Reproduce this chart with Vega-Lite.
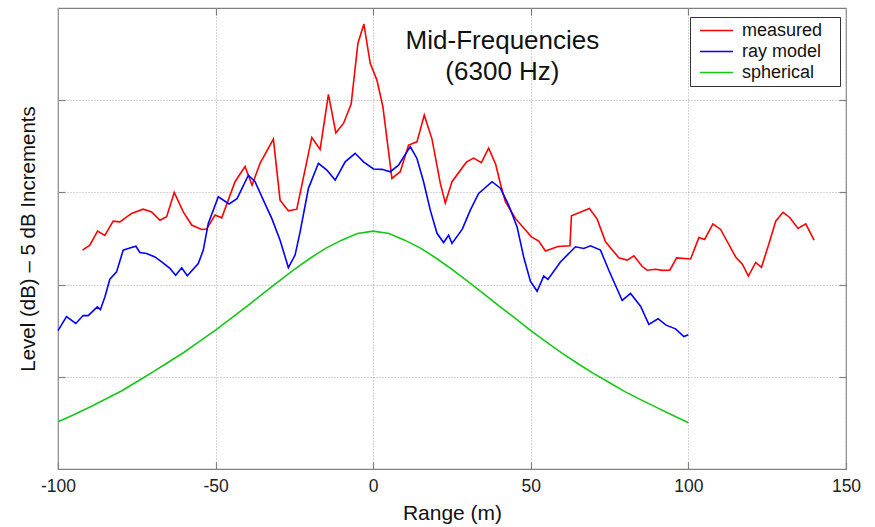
{
  "$schema": "https://vega.github.io/schema/vega-lite/v6.json",
  "width": 788,
  "height": 461,
  "autosize": {"type": "none"},
  "padding": {"left": 58, "top": 8, "right": 29, "bottom": 58},
  "background": "white",
  "config": {
    "font": "Liberation Sans",
    "view": {"stroke": "#808080", "strokeWidth": 1.2},
    "axis": {
      "domain": false,
      "tickColor": "#808080",
      "tickWidth": 1.2,
      "gridColor": "#a8a8a8",
      "gridDash": [1, 2],
      "gridWidth": 1,
      "labelColor": "#222",
      "titleColor": "#111",
      "labelFont": "Liberation Sans",
      "titleFont": "Liberation Sans",
      "titleFontWeight": "normal"
    }
  },
  "resolve": {"axis": {"x": "independent", "y": "independent"}},
  "layer": [
    {
      "data": {"values": [
        {"series": "measured", "r": -92.22, "L": 11.87},
        {"series": "measured", "r": -89.90, "L": 12.14},
        {"series": "measured", "r": -87.45, "L": 12.90},
        {"series": "measured", "r": -85.13, "L": 12.67},
        {"series": "measured", "r": -82.50, "L": 13.44},
        {"series": "measured", "r": -80.37, "L": 13.40},
        {"series": "measured", "r": -76.65, "L": 13.86},
        {"series": "measured", "r": -72.97, "L": 14.09},
        {"series": "measured", "r": -70.30, "L": 13.94},
        {"series": "measured", "r": -67.66, "L": 13.49},
        {"series": "measured", "r": -65.53, "L": 13.68},
        {"series": "measured", "r": -63.12, "L": 15.00},
        {"series": "measured", "r": -60.26, "L": 13.94},
        {"series": "measured", "r": -57.59, "L": 13.23},
        {"series": "measured", "r": -54.42, "L": 12.99},
        {"series": "measured", "r": -52.83, "L": 13.01},
        {"series": "measured", "r": -50.19, "L": 13.77},
        {"series": "measured", "r": -48.06, "L": 13.62},
        {"series": "measured", "r": -43.84, "L": 15.58},
        {"series": "measured", "r": -40.66, "L": 16.40},
        {"series": "measured", "r": -38.44, "L": 15.39},
        {"series": "measured", "r": -35.90, "L": 16.58},
        {"series": "measured", "r": -31.67, "L": 17.89},
        {"series": "measured", "r": -29.54, "L": 14.58},
        {"series": "measured", "r": -26.91, "L": 14.00},
        {"series": "measured", "r": -24.24, "L": 14.09},
        {"series": "measured", "r": -19.47, "L": 17.98},
        {"series": "measured", "r": -16.84, "L": 17.33},
        {"series": "measured", "r": -14.20, "L": 20.32},
        {"series": "measured", "r": -11.85, "L": 18.23},
        {"series": "measured", "r": -9.43, "L": 18.74},
        {"series": "measured", "r": -6.99, "L": 19.79},
        {"series": "measured", "r": -4.86, "L": 23.08},
        {"series": "measured", "r": -2.95, "L": 24.13},
        {"series": "measured", "r": -0.95, "L": 22.00},
        {"series": "measured", "r": 1.18, "L": 21.09},
        {"series": "measured", "r": 3.08, "L": 19.64},
        {"series": "measured", "r": 5.94, "L": 15.76},
        {"series": "measured", "r": 8.58, "L": 16.12},
        {"series": "measured", "r": 11.21, "L": 17.57},
        {"series": "measured", "r": 13.88, "L": 17.74},
        {"series": "measured", "r": 16.20, "L": 19.19},
        {"series": "measured", "r": 18.65, "L": 17.89},
        {"series": "measured", "r": 21.28, "L": 15.50},
        {"series": "measured", "r": 22.87, "L": 14.42},
        {"series": "measured", "r": 25.00, "L": 15.58},
        {"series": "measured", "r": 29.54, "L": 16.64},
        {"series": "measured", "r": 31.86, "L": 16.86},
        {"series": "measured", "r": 34.31, "L": 16.61},
        {"series": "measured", "r": 36.63, "L": 17.40},
        {"series": "measured", "r": 38.85, "L": 16.53},
        {"series": "measured", "r": 40.34, "L": 15.48},
        {"series": "measured", "r": 41.93, "L": 14.49},
        {"series": "measured", "r": 45.11, "L": 13.59},
        {"series": "measured", "r": 50.19, "L": 12.59},
        {"series": "measured", "r": 52.51, "L": 12.36},
        {"series": "measured", "r": 54.64, "L": 11.82},
        {"series": "measured", "r": 58.61, "L": 12.07},
        {"series": "measured", "r": 62.42, "L": 12.11},
        {"series": "measured", "r": 62.90, "L": 13.73},
        {"series": "measured", "r": 68.61, "L": 14.13},
        {"series": "measured", "r": 71.06, "L": 13.55},
        {"series": "measured", "r": 73.70, "L": 12.32},
        {"series": "measured", "r": 77.92, "L": 11.46},
        {"series": "measured", "r": 80.59, "L": 11.33},
        {"series": "measured", "r": 82.69, "L": 11.56},
        {"series": "measured", "r": 85.36, "L": 10.98},
        {"series": "measured", "r": 86.94, "L": 10.78},
        {"series": "measured", "r": 89.58, "L": 10.83},
        {"series": "measured", "r": 91.71, "L": 10.77},
        {"series": "measured", "r": 94.12, "L": 10.78},
        {"series": "measured", "r": 96.25, "L": 11.45},
        {"series": "measured", "r": 100.70, "L": 11.39},
        {"series": "measured", "r": 103.34, "L": 12.56},
        {"series": "measured", "r": 105.15, "L": 12.45},
        {"series": "measured", "r": 107.78, "L": 13.29},
        {"series": "measured", "r": 110.23, "L": 12.99},
        {"series": "measured", "r": 114.99, "L": 11.50},
        {"series": "measured", "r": 117.12, "L": 11.11},
        {"series": "measured", "r": 119.03, "L": 10.46},
        {"series": "measured", "r": 121.35, "L": 11.20},
        {"series": "measured", "r": 123.16, "L": 10.93},
        {"series": "measured", "r": 125.57, "L": 12.23},
        {"series": "measured", "r": 127.70, "L": 13.44},
        {"series": "measured", "r": 130.02, "L": 13.92},
        {"series": "measured", "r": 132.15, "L": 13.64},
        {"series": "measured", "r": 134.78, "L": 13.04},
        {"series": "measured", "r": 137.23, "L": 13.29},
        {"series": "measured", "r": 139.87, "L": 12.41},

        {"series": "ray model", "r": -100.0, "L": 7.50},
        {"series": "ray model", "r": -97.30, "L": 8.26},
        {"series": "ray model", "r": -94.35, "L": 7.89},
        {"series": "ray model", "r": -92.03, "L": 8.32},
        {"series": "ray model", "r": -90.44, "L": 8.32},
        {"series": "ray model", "r": -87.52, "L": 8.79},
        {"series": "ray model", "r": -86.56, "L": 8.64},
        {"series": "ray model", "r": -85.13, "L": 9.33},
        {"series": "ray model", "r": -83.55, "L": 10.29},
        {"series": "ray model", "r": -81.42, "L": 10.69},
        {"series": "ray model", "r": -79.32, "L": 11.87},
        {"series": "ray model", "r": -77.73, "L": 11.96},
        {"series": "ray model", "r": -75.29, "L": 12.08},
        {"series": "ray model", "r": -74.02, "L": 11.74},
        {"series": "ray model", "r": -71.89, "L": 11.69},
        {"series": "ray model", "r": -69.25, "L": 11.50},
        {"series": "ray model", "r": -67.12, "L": 11.23},
        {"series": "ray model", "r": -64.49, "L": 10.88},
        {"series": "ray model", "r": -62.67, "L": 10.51},
        {"series": "ray model", "r": -60.77, "L": 10.91},
        {"series": "ray model", "r": -58.99, "L": 10.48},
        {"series": "ray model", "r": -55.50, "L": 11.14},
        {"series": "ray model", "r": -53.91, "L": 11.87},
        {"series": "ray model", "r": -52.32, "L": 13.32},
        {"series": "ray model", "r": -49.14, "L": 14.76},
        {"series": "ray model", "r": -45.74, "L": 14.37},
        {"series": "ray model", "r": -43.20, "L": 14.66},
        {"series": "ray model", "r": -39.61, "L": 15.93},
        {"series": "ray model", "r": -37.48, "L": 15.58},
        {"series": "ray model", "r": -34.85, "L": 14.58},
        {"series": "ray model", "r": -32.18, "L": 13.59},
        {"series": "ray model", "r": -29.54, "L": 12.41},
        {"series": "ray model", "r": -26.91, "L": 10.92},
        {"series": "ray model", "r": -24.78, "L": 11.60},
        {"series": "ray model", "r": -23.19, "L": 12.86},
        {"series": "ray model", "r": -20.55, "L": 15.22},
        {"series": "ray model", "r": -17.38, "L": 16.58},
        {"series": "ray model", "r": -14.71, "L": 16.21},
        {"series": "ray model", "r": -12.07, "L": 15.67},
        {"series": "ray model", "r": -8.89, "L": 16.66},
        {"series": "ray model", "r": -5.72, "L": 17.12},
        {"series": "ray model", "r": -3.08, "L": 16.66},
        {"series": "ray model", "r": 0.10, "L": 16.27},
        {"series": "ray model", "r": 2.76, "L": 16.25},
        {"series": "ray model", "r": 5.40, "L": 16.12},
        {"series": "ray model", "r": 8.04, "L": 16.48},
        {"series": "ray model", "r": 11.75, "L": 17.48},
        {"series": "ray model", "r": 13.88, "L": 16.84},
        {"series": "ray model", "r": 15.98, "L": 15.58},
        {"series": "ray model", "r": 18.11, "L": 14.04},
        {"series": "ray model", "r": 20.24, "L": 12.78},
        {"series": "ray model", "r": 22.33, "L": 12.28},
        {"series": "ray model", "r": 23.92, "L": 12.68},
        {"series": "ray model", "r": 25.00, "L": 12.23},
        {"series": "ray model", "r": 28.27, "L": 13.01},
        {"series": "ray model", "r": 30.81, "L": 14.04},
        {"series": "ray model", "r": 33.45, "L": 14.94},
        {"series": "ray model", "r": 37.71, "L": 15.58},
        {"series": "ray model", "r": 40.34, "L": 15.23},
        {"series": "ray model", "r": 42.98, "L": 14.31},
        {"series": "ray model", "r": 45.65, "L": 13.13},
        {"series": "ray model", "r": 47.74, "L": 11.50},
        {"series": "ray model", "r": 49.87, "L": 10.18},
        {"series": "ray model", "r": 52.00, "L": 9.64},
        {"series": "ray model", "r": 54.10, "L": 10.46},
        {"series": "ray model", "r": 55.43, "L": 10.28},
        {"series": "ray model", "r": 59.40, "L": 11.23},
        {"series": "ray model", "r": 64.17, "L": 12.05},
        {"series": "ray model", "r": 66.80, "L": 11.96},
        {"series": "ray model", "r": 68.93, "L": 12.10},
        {"series": "ray model", "r": 72.11, "L": 11.87},
        {"series": "ray model", "r": 74.75, "L": 10.78},
        {"series": "ray model", "r": 79.00, "L": 9.14},
        {"series": "ray model", "r": 81.64, "L": 9.52},
        {"series": "ray model", "r": 84.82, "L": 8.83},
        {"series": "ray model", "r": 87.45, "L": 7.84},
        {"series": "ray model", "r": 90.37, "L": 8.15},
        {"series": "ray model", "r": 92.92, "L": 7.80},
        {"series": "ray model", "r": 95.93, "L": 7.60},
        {"series": "ray model", "r": 98.57, "L": 7.18},
        {"series": "ray model", "r": 100.0, "L": 7.28},

        {"series": "spherical", "r": -100, "L": 2.56},
        {"series": "spherical", "r": -95, "L": 2.94},
        {"series": "spherical", "r": -90, "L": 3.35},
        {"series": "spherical", "r": -85, "L": 3.78},
        {"series": "spherical", "r": -80, "L": 4.22},
        {"series": "spherical", "r": -75, "L": 4.73},
        {"series": "spherical", "r": -70, "L": 5.25},
        {"series": "spherical", "r": -65, "L": 5.79},
        {"series": "spherical", "r": -60, "L": 6.33},
        {"series": "spherical", "r": -55, "L": 6.93},
        {"series": "spherical", "r": -50, "L": 7.53},
        {"series": "spherical", "r": -45, "L": 8.18},
        {"series": "spherical", "r": -40, "L": 8.83},
        {"series": "spherical", "r": -35, "L": 9.51},
        {"series": "spherical", "r": -30, "L": 10.18},
        {"series": "spherical", "r": -25, "L": 10.83},
        {"series": "spherical", "r": -20, "L": 11.43},
        {"series": "spherical", "r": -15, "L": 11.98},
        {"series": "spherical", "r": -10, "L": 12.41},
        {"series": "spherical", "r": -5, "L": 12.77},
        {"series": "spherical", "r": 0, "L": 12.90},
        {"series": "spherical", "r": 5, "L": 12.77},
        {"series": "spherical", "r": 10, "L": 12.41},
        {"series": "spherical", "r": 15, "L": 11.98},
        {"series": "spherical", "r": 20, "L": 11.43},
        {"series": "spherical", "r": 25, "L": 10.83},
        {"series": "spherical", "r": 30, "L": 10.18},
        {"series": "spherical", "r": 35, "L": 9.51},
        {"series": "spherical", "r": 40, "L": 8.83},
        {"series": "spherical", "r": 45, "L": 8.18},
        {"series": "spherical", "r": 50, "L": 7.50},
        {"series": "spherical", "r": 55, "L": 6.88},
        {"series": "spherical", "r": 60, "L": 6.27},
        {"series": "spherical", "r": 65, "L": 5.71},
        {"series": "spherical", "r": 70, "L": 5.17},
        {"series": "spherical", "r": 75, "L": 4.68},
        {"series": "spherical", "r": 80, "L": 4.18},
        {"series": "spherical", "r": 85, "L": 3.75},
        {"series": "spherical", "r": 90, "L": 3.33},
        {"series": "spherical", "r": 95, "L": 2.92},
        {"series": "spherical", "r": 100, "L": 2.51}
      ]},
      "mark": {"type": "line", "strokeWidth": 1.6, "interpolate": "linear"},
      "encoding": {
        "x": {
          "field": "r", "type": "quantitative",
          "scale": {"domain": [-100, 150], "nice": false, "zero": false},
          "axis": {
            "orient": "bottom",
            "values": [-100, -50, 0, 50, 100, 150],
            "labelExpr": "'' + datum.value",
            "tickSize": -7,
            "labelPadding": 15,
            "labelFontSize": 17.5,
            "labelFlush": false,
            "grid": true,
            "title": "Range (m)",
            "titleFontSize": 21,
            "titlePadding": 8
          }
        },
        "y": {
          "field": "L", "type": "quantitative",
          "scale": {"domain": [0, 25], "nice": false, "zero": false},
          "axis": {
            "orient": "left",
            "values": [5, 10, 15, 20],
            "tickSize": -7,
            "labels": false,
            "grid": true,
            "title": "Level (dB) – 5 dB Increments",
            "titleFontSize": 20.5,
            "titlePadding": 19
          }
        },
        "color": {
          "field": "series", "type": "nominal",
          "scale": {"domain": ["measured", "ray model", "spherical"], "range": ["#ff0000", "#0000ff", "#14c814"]},
          "legend": {
            "title": null,
            "orient": "none",
            "legendX": 632,
            "legendY": 9,
            "symbolType": "M-2,0H2",
            "symbolSize": 272,
            "symbolStrokeWidth": 1.6,
            "labelFontSize": 18,
            "labelFont": "Liberation Sans",
            "labelColor": "#111",
            "labelOffset": 16,
            "labelExpr": "datum.label + '\u2800'",
            "padding": 4,
            "symbolOffset": 13,
            "rowPadding": 2,
            "strokeColor": "#333333",
            "fillColor": "white"
          }
        }
      }
    },
    {
      "data": {"values": [{"note": "title"}]},
      "mark": {
        "type": "text",
        "text": ["Mid-Frequencies", "(6300 Hz)"],
        "align": "center",
        "baseline": "alphabetic",
        "fontSize": 26,
        "lineHeight": 31,
        "font": "Liberation Sans",
        "color": "#111"
      },
      "encoding": {
        "x": {
          "datum": 41.0, "type": "quantitative",
          "scale": {"domain": [-100, 150], "nice": false, "zero": false},
          "axis": {"orient": "top", "values": [-50, 0, 50, 100], "tickSize": -7, "labels": false, "grid": false, "title": null}
        },
        "y": {
          "datum": 22.8, "type": "quantitative",
          "scale": {"domain": [0, 25], "nice": false, "zero": false},
          "axis": {"orient": "right", "values": [5, 10, 15, 20], "tickSize": -7, "labels": false, "grid": false, "title": null}
        }
      }
    }
  ]
}
